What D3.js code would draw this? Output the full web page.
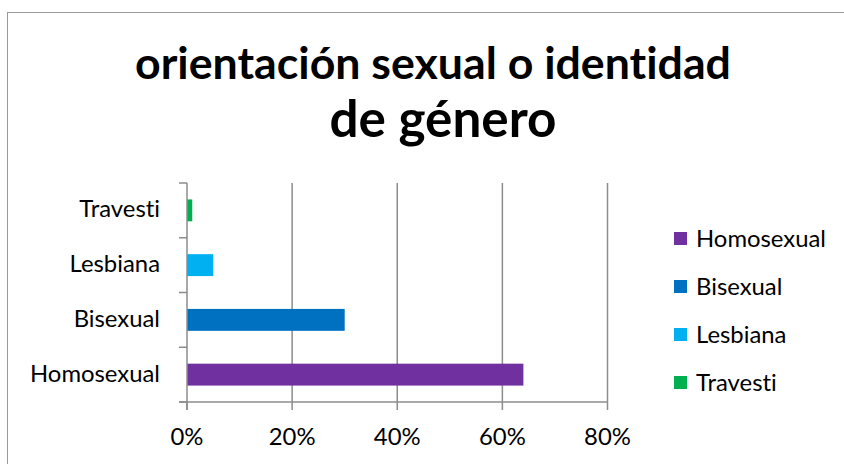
<!DOCTYPE html>
<html>
<head>
<meta charset="utf-8">
<script src="https://cdn.jsdelivr.net/npm/d3@7/dist/d3.min.js"></script>
<style>
  body { margin: 0; background: #fff; }
  text { font-family: Lato, "Open Sans", sans-serif; fill: #000; font-variant-ligatures: none; font-feature-settings: "liga" 0, "clig" 0; }
</style>
</head>
<body>
<div id="chart"></div>
<script>
// data
var categories = ["Homosexual", "Bisexual", "Lesbiana", "Travesti"];
var values = [0.64, 0.30, 0.05, 0.01];
var colors = ["#7030A0", "#0070C0", "#00B0F0", "#00B050"];
var ticks = [0, 0.2, 0.4, 0.6, 0.8];
var titleLines = ["orientación sexual o identidad", "de género"];

var W = 844, H = 464;
var margin = {top: 183, left: 187, right: 237, bottom: 62};
var width = 607.5 - margin.left;
var height = 402 - margin.top;

var svg = d3.select("#chart").append("svg")
	.attr("width", W)
	.attr("height", H);

// outer chart border
svg.append("rect")
	.attr("x", 7.5).attr("y", 12.5)
	.attr("width", 900).attr("height", 500)
	.attr("fill", "none")
	.attr("stroke", "#999")
	.attr("stroke-width", 1);

// sizes text so its width is close to the target
function fit(sel, target) {
	var w = sel.node().getComputedTextLength();
	var fs = parseFloat(sel.attr("font-size"));
	sel.attr("font-size", fs * target / w);
	return fs * target / w;
}

// title
var t1 = svg.append("text").attr("x", 433).attr("y", 79)
	.attr("text-anchor", "middle").attr("font-weight", "bold")
	.attr("font-size", 37).text(titleLines[0]);
fit(t1, 596);
var t2 = svg.append("text").attr("x", 443).attr("y", 137)
	.attr("text-anchor", "middle").attr("font-weight", "bold")
	.attr("font-size", 37).text(titleLines[1]);
fit(t2, 227);

// body font size from "Homosexual" width
var probe = svg.append("text").attr("font-size", 20).text("Homosexual");
var bodyFs = fit(probe, 130);
probe.remove();

var g = svg.append("g").attr("transform", "translate(" + margin.left + "," + margin.top + ")");

var x = d3.scaleLinear().domain([0, 0.8]).range([0, width]);
var y = d3.scaleBand().domain(categories.slice().reverse()).range([0, height])
	.paddingInner(0.6).paddingOuter(0.3);
var yEdge = d3.scaleLinear().domain([0, categories.length]).range([height, 0]);

// gridlines
g.selectAll(".grid").data(ticks.slice(1))
	.enter().append("line")
	.attr("x1", d => x(d)).attr("x2", d => x(d))
	.attr("y1", 0).attr("y2", height)
	.attr("stroke", "#8c8c8c").attr("stroke-width", 1.5);

// bars
g.selectAll(".bar").data(categories)
	.enter().append("rect")
	.attr("x", x(0))
	.attr("y", d => y(d))
	.attr("width", (d, i) => x(values[i]) - x(0))
	.attr("height", y.bandwidth())
	.attr("fill", (d, i) => colors[i]);

// y axis line and ticks
g.append("line").attr("x1", 0).attr("x2", 0).attr("y1", 0).attr("y2", height + 8)
	.attr("stroke", "#8c8c8c").attr("stroke-width", 1.5);
g.selectAll(".ytick").data(d3.range(categories.length + 1))
	.enter().append("line")
	.attr("x1", -8).attr("x2", 0)
	.attr("y1", d => yEdge(d)).attr("y2", d => yEdge(d))
	.attr("stroke", "#8c8c8c").attr("stroke-width", 1.5);

// x axis line and ticks
g.append("line").attr("x1", -8).attr("x2", width).attr("y1", height).attr("y2", height)
	.attr("stroke", "#8c8c8c").attr("stroke-width", 1.5);
g.selectAll(".xtick").data(ticks)
	.enter().append("line")
	.attr("x1", d => x(d)).attr("x2", d => x(d))
	.attr("y1", height).attr("y2", height + 8)
	.attr("stroke", "#8c8c8c").attr("stroke-width", 1.5);

// x tick labels
g.selectAll(".xlab").data(ticks)
	.enter().append("text")
	.attr("x", d => x(d)).attr("y", height + 43)
	.attr("text-anchor", "middle")
	.attr("font-size", bodyFs)
	.text(d => d3.format(".0%")(d));

// category labels
g.selectAll(".ylab").data(categories)
	.enter().append("text")
	.attr("x", -27)
	.attr("y", d => y(d) + y.bandwidth() / 2 + 7)
	.attr("text-anchor", "end")
	.attr("font-size", bodyFs)
	.text(d => d);

// legend
var leg = svg.append("g").attr("transform", "translate(674,232)");
var item = leg.selectAll(".item").data(categories)
	.enter().append("g")
	.attr("transform", (d, i) => "translate(0," + i * 48 + ")");
item.append("rect").attr("width", 13).attr("height", 13)
	.attr("fill", (d, i) => colors[i]);
item.append("text").attr("x", 22).attr("y", 14.5)
	.attr("font-size", bodyFs)
	.text(d => d);
</script>
</body>
</html>
